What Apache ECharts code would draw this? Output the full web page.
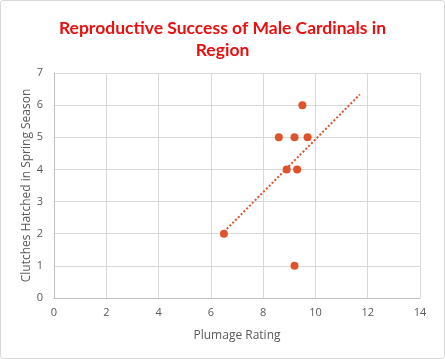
<!DOCTYPE html>
<html><head><meta charset="utf-8">
<script src="https://cdn.jsdelivr.net/npm/echarts@6/dist/echarts.min.js"></script>
<style>html,body{margin:0;padding:0;background:#fff}#c{width:445px;height:359px;box-sizing:border-box;border:1px solid #d9d9d9;border-radius:3px}</style>
</head><body><div id="c"></div>
<script>
var plumage = [6.5, 8.6, 9.2, 9.7, 9.5, 8.9, 9.3, 9.2];
var clutches = [2, 5, 5, 5, 6, 4, 4, 1];
var xTicks = [0, 2, 4, 6, 8, 10, 12, 14];
var yTicks = [0, 1, 2, 3, 4, 5, 6, 7];
var forecastForward = 2;

var n = plumage.length, mx = 0, my = 0;
for (var i = 0; i < n; i++) { mx += plumage[i]; my += clutches[i]; }
mx /= n; my /= n;
var sxy = 0, sxx = 0;
for (var i = 0; i < n; i++) { sxy += (plumage[i]-mx)*(clutches[i]-my); sxx += (plumage[i]-mx)*(plumage[i]-mx); }
var slope = sxy / sxx, icpt = my - slope * mx;
var x0 = Math.min.apply(null, plumage), x1 = Math.max.apply(null, plumage) + forecastForward;
var trend = [[x0, icpt + slope*x0], [x1, icpt + slope*x1]];

var col = '#E0522B';
var chart = echarts.init(document.getElementById('c'), null, {renderer:'canvas'});
chart.setOption({
  animation:false,
  title:{text:'Reproductive Success of Male Cardinals in\nRegion', left:'center', top:11,
    textStyle:{color:'#E81010', fontFamily:'Lato', fontWeight:'bold', fontSize:17.5, lineHeight:22}},
  grid:{left:53, right:24, top:72, bottom:60},
  xAxis:{type:'value', min:0, max:14, interval:2,
    name:'Plumage Rating', nameLocation:'middle', nameGap:32, nameMoveOverlap:false,
    nameTextStyle:{color:'#595959', fontSize:12, fontFamily:'Open Sans'},
    axisLine:{show:true, lineStyle:{color:'#bfbfbf'}}, axisTick:{show:false},
    axisLabel:{color:'#595959', fontSize:11, fontFamily:'Open Sans', margin:9},
    splitLine:{show:true, lineStyle:{color:'#d9d9d9'}}},
  yAxis:{type:'value', min:0, max:7, interval:1,
    name:'Clutches Hatched in Spring Season', nameLocation:'middle', nameGap:21, nameRotate:90, nameMoveOverlap:false,
    nameTextStyle:{color:'#595959', fontSize:12, fontFamily:'Open Sans'},
    axisLine:{show:true, lineStyle:{color:'#bfbfbf'}}, axisTick:{show:false},
    axisLabel:{color:'#595959', fontSize:11, fontFamily:'Open Sans', margin:11},
    splitLine:{show:true, lineStyle:{color:'#d9d9d9'}}},
  series:[
    {type:'line', data:trend, symbol:'none', lineStyle:{color:col, width:2, type:[2,2]}, z:1},
    {type:'scatter', data:plumage.map(function(x,i){return [x, clutches[i]];}), symbolSize:8, itemStyle:{color:col, opacity:1}, z:2}
  ]
});
</script></body></html>
